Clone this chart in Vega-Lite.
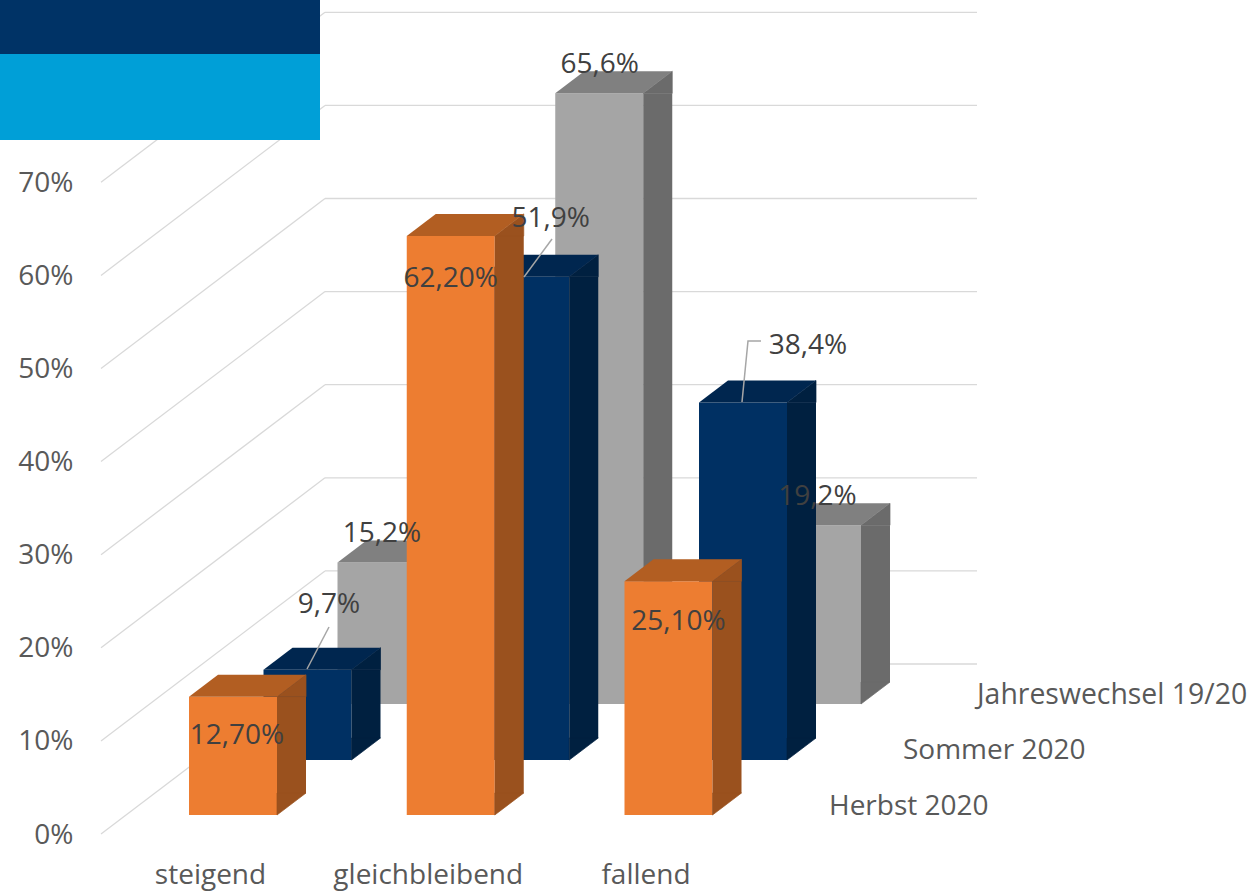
{"$schema":"https://vega.github.io/schema/vega-lite/v6.json","width":1253,"height":891,"padding":0,"autosize":{"type":"none"},"background":"#ffffff","config":{"view":{"stroke":null},"font":"Open Sans"},
"resolve":{"axis":{"x":"independent","y":"independent"}},
"data":{"values":[
{"Kategorie":"steigend","Zeitraum":"Jahreswechsel 19/20","Anteil":15.2,"Beschriftung":"15,2%"},
{"Kategorie":"gleichbleibend","Zeitraum":"Jahreswechsel 19/20","Anteil":65.6,"Beschriftung":"65,6%"},
{"Kategorie":"fallend","Zeitraum":"Jahreswechsel 19/20","Anteil":19.2,"Beschriftung":"19,2%"},
{"Kategorie":"steigend","Zeitraum":"Sommer 2020","Anteil":9.7,"Beschriftung":"9,7%"},
{"Kategorie":"gleichbleibend","Zeitraum":"Sommer 2020","Anteil":51.9,"Beschriftung":"51,9%"},
{"Kategorie":"fallend","Zeitraum":"Sommer 2020","Anteil":38.4,"Beschriftung":"38,4%"},
{"Kategorie":"steigend","Zeitraum":"Herbst 2020","Anteil":12.7,"Beschriftung":"12,70%"},
{"Kategorie":"gleichbleibend","Zeitraum":"Herbst 2020","Anteil":62.2,"Beschriftung":"62,20%"},
{"Kategorie":"fallend","Zeitraum":"Herbst 2020","Anteil":25.1,"Beschriftung":"25,10%"}
]},
"encoding":{
"x":{"field":"Kategorie","type":"nominal","sort":null,"scale":{"type":"point","domain":["steigend","gleichbleibend","fallend"],"range":[233,668.5],"padding":0},"axis":null},
"y":{"field":"Anteil","type":"quantitative","scale":{"domain":[-8.163,87.54],"nice":false,"zero":false},"axis":null}
},
"layer":[
{"data":{"values":[{"Teilstrich":0,"Kategorie":"steigend"},{"Teilstrich":10,"Kategorie":"steigend"},{"Teilstrich":20,"Kategorie":"steigend"},{"Teilstrich":30,"Kategorie":"steigend"},{"Teilstrich":40,"Kategorie":"steigend"},{"Teilstrich":50,"Kategorie":"steigend"},{"Teilstrich":60,"Kategorie":"steigend"},{"Teilstrich":70,"Kategorie":"steigend"}]},
"mark":{"type":"point","filled":false,"shape":"M0,0L224,-170","size":4,"stroke":"#D9D9D9","strokeWidth":1.3,"opacity":1,"xOffset":-132,"yOffset":19},
"encoding":{"x":{"field":"Kategorie","type":"nominal","sort":null,"scale":{"type":"point","domain":["steigend","gleichbleibend","fallend"],"range":[233,668.5],"padding":0},"axis":{"orient":"bottom","title":null,"domain":false,"ticks":false,"labelAngle":0,"labelOffset":-23,"labelFontSize":28,"labelColor":"#595959","labelFont":"Open Sans","offset":-32,"labelPadding":2,"grid":false,"labelOverlap":false,"labelLimit":400}},
"y":{"field":"Teilstrich","type":"quantitative","scale":{"domain":[-8.163,87.54],"nice":false,"zero":false},"axis":{"orient":"left","title":null,"values":[0,10,20,30,40,50,60,70],"labelExpr":"datum.value + '%'","domain":false,"ticks":false,"grid":false,"offset":-75,"labelPadding":2,"labelOffset":20,"labelFontSize":28,"labelColor":"#595959","labelFont":"Open Sans","labelOverlap":false}}}},
{"data":{"values":[{"Teilstrich":0,"Kategorie":"steigend"},{"Teilstrich":10,"Kategorie":"steigend"},{"Teilstrich":20,"Kategorie":"steigend"},{"Teilstrich":30,"Kategorie":"steigend"},{"Teilstrich":40,"Kategorie":"steigend"},{"Teilstrich":50,"Kategorie":"steigend"},{"Teilstrich":60,"Kategorie":"steigend"},{"Teilstrich":70,"Kategorie":"steigend"}]},
"mark":{"type":"point","filled":false,"shape":"M0,0L652,0","size":4,"stroke":"#D9D9D9","strokeWidth":1.3,"opacity":1,"xOffset":92,"yOffset":-151},
"encoding":{"y":{"field":"Teilstrich","type":"quantitative","scale":{"domain":[-8.163,87.54],"nice":false,"zero":false},"axis":null}}},

{"transform":[{"filter":"datum.Zeitraum=='Jahreswechsel 19/20'"}],"mark":{"type":"bar","width":88,"color":"#A5A5A5","xOffset":148.5,"yOffset":-111,"y2Offset":-111},"encoding":{"y2":{"datum":0}}},
{"transform":[{"filter":"datum.Zeitraum=='Jahreswechsel 19/20'"}],"mark":{"type":"bar","width":29,"color":"#6B6B6B","xOffset":207,"yOffset":-111,"y2Offset":-133},"encoding":{"y2":{"datum":0}}},
{"transform":[{"filter":"datum.Zeitraum=='Jahreswechsel 19/20'"}],"mark":{"type":"point","filled":true,"shape":"M0,0L29,-22L29,0Z","size":4,"fill":"#6B6B6B","stroke":"#6B6B6B","strokeWidth":0.7,"opacity":1,"xOffset":192.5,"yOffset":-111}},
{"transform":[{"filter":"datum.Zeitraum=='Jahreswechsel 19/20'"}],"mark":{"type":"point","filled":true,"shape":"M0,0L29,-22L0,-22Z","size":4,"fill":"#6B6B6B","stroke":"#6B6B6B","strokeWidth":0.7,"opacity":1,"xOffset":192.5,"yOffset":-111},"encoding":{"y":{"datum":0,"type":"quantitative","scale":{"domain":[-8.163,87.54],"nice":false,"zero":false},"axis":null}}},
{"transform":[{"filter":"datum.Zeitraum=='Jahreswechsel 19/20'"}],"mark":{"type":"point","filled":true,"shape":"M0,0L29,-22L117,-22L88,0Z","size":4,"fill":"#808080","opacity":1,"xOffset":104.5,"yOffset":-111}},

{"transform":[{"filter":"datum.Zeitraum=='Sommer 2020'"}],"mark":{"type":"bar","width":88,"color":"#003063","xOffset":74.5,"yOffset":-55,"y2Offset":-55},"encoding":{"y2":{"datum":0}}},
{"transform":[{"filter":"datum.Zeitraum=='Sommer 2020'"}],"mark":{"type":"bar","width":29,"color":"#002040","xOffset":133,"yOffset":-55,"y2Offset":-77},"encoding":{"y2":{"datum":0}}},
{"transform":[{"filter":"datum.Zeitraum=='Sommer 2020'"}],"mark":{"type":"point","filled":true,"shape":"M0,0L29,-22L29,0Z","size":4,"fill":"#002040","stroke":"#002040","strokeWidth":0.7,"opacity":1,"xOffset":118.5,"yOffset":-55}},
{"transform":[{"filter":"datum.Zeitraum=='Sommer 2020'"}],"mark":{"type":"point","filled":true,"shape":"M0,0L29,-22L0,-22Z","size":4,"fill":"#002040","stroke":"#002040","strokeWidth":0.7,"opacity":1,"xOffset":118.5,"yOffset":-55},"encoding":{"y":{"datum":0,"type":"quantitative","scale":{"domain":[-8.163,87.54],"nice":false,"zero":false},"axis":null}}},
{"transform":[{"filter":"datum.Zeitraum=='Sommer 2020'"}],"mark":{"type":"point","filled":true,"shape":"M0,0L29,-22L117,-22L88,0Z","size":4,"fill":"#00264F","opacity":1,"xOffset":30.5,"yOffset":-55}},

{"transform":[{"filter":"datum.Zeitraum=='Herbst 2020'"}],"mark":{"type":"bar","width":88,"color":"#ED7D31","xOffset":0,"yOffset":0,"y2Offset":0},"encoding":{"y2":{"datum":0}}},
{"transform":[{"filter":"datum.Zeitraum=='Herbst 2020'"}],"mark":{"type":"bar","width":29,"color":"#9A511E","xOffset":58.5,"yOffset":0,"y2Offset":-22},"encoding":{"y2":{"datum":0}}},
{"transform":[{"filter":"datum.Zeitraum=='Herbst 2020'"}],"mark":{"type":"point","filled":true,"shape":"M0,0L29,-22L29,0Z","size":4,"fill":"#9A511E","stroke":"#9A511E","strokeWidth":0.7,"opacity":1,"xOffset":44,"yOffset":0}},
{"transform":[{"filter":"datum.Zeitraum=='Herbst 2020'"}],"mark":{"type":"point","filled":true,"shape":"M0,0L29,-22L0,-22Z","size":4,"fill":"#9A511E","stroke":"#9A511E","strokeWidth":0.7,"opacity":1,"xOffset":44,"yOffset":0},"encoding":{"y":{"datum":0,"type":"quantitative","scale":{"domain":[-8.163,87.54],"nice":false,"zero":false},"axis":null}}},
{"transform":[{"filter":"datum.Zeitraum=='Herbst 2020'"}],"mark":{"type":"point","filled":true,"shape":"M0,0L29,-22L117,-22L88,0Z","size":4,"fill":"#B25E22","opacity":1,"xOffset":-44,"yOffset":0}},

{"transform":[{"filter":"datum.Beschriftung=='9,7%'"}],"mark":{"type":"point","filled":false,"shape":"M0,0L22,-42","size":4,"stroke":"#A6A6A6","strokeWidth":1.5,"opacity":1,"xOffset":74,"yOffset":-55.7}},
{"transform":[{"filter":"datum.Beschriftung=='51,9%'"}],"mark":{"type":"point","filled":false,"shape":"M0,0L28,-38","size":4,"stroke":"#A6A6A6","strokeWidth":1.5,"opacity":1,"xOffset":73.25,"yOffset":-54.8}},
{"transform":[{"filter":"datum.Beschriftung=='38,4%'"}],"mark":{"type":"point","filled":false,"shape":"M0,0L6,-61L19,-61","size":4,"stroke":"#A6A6A6","strokeWidth":1.5,"opacity":1,"xOffset":73.5,"yOffset":-55.5}},

{"transform":[{"filter":"datum.Zeitraum=='Jahreswechsel 19/20'"}],"mark":{"type":"text","font":"Open Sans","fontSize":28,"color":"#404040","baseline":"middle","align":"center","dx":149,"dy":-139},"encoding":{"text":{"field":"Beschriftung","type":"nominal"}}},
{"transform":[{"filter":"datum.Beschriftung=='9,7%'"}],"mark":{"type":"text","font":"Open Sans","fontSize":28,"color":"#404040","baseline":"middle","align":"center","dx":96,"dy":-120},"encoding":{"text":{"field":"Beschriftung","type":"nominal"}}},
{"transform":[{"filter":"datum.Beschriftung=='51,9%'"}],"mark":{"type":"text","font":"Open Sans","fontSize":28,"color":"#404040","baseline":"middle","align":"center","dx":100,"dy":-113},"encoding":{"text":{"field":"Beschriftung","type":"nominal"}}},
{"transform":[{"filter":"datum.Beschriftung=='38,4%'"}],"mark":{"type":"text","font":"Open Sans","fontSize":28,"color":"#404040","baseline":"middle","align":"center","dx":139.5,"dy":-111.5},"encoding":{"text":{"field":"Beschriftung","type":"nominal"}}},
{"transform":[{"filter":"datum.Beschriftung=='12,70%'"}],"mark":{"type":"text","font":"Open Sans","fontSize":28,"color":"#404040","baseline":"middle","align":"center","dx":4,"dy":39},"encoding":{"text":{"field":"Beschriftung","type":"nominal"}}},
{"transform":[{"filter":"datum.Beschriftung=='62,20%'"}],"mark":{"type":"text","font":"Open Sans","fontSize":28,"color":"#404040","baseline":"middle","align":"center","dx":0,"dy":43},"encoding":{"text":{"field":"Beschriftung","type":"nominal"}}},
{"transform":[{"filter":"datum.Beschriftung=='25,10%'"}],"mark":{"type":"text","font":"Open Sans","fontSize":28,"color":"#404040","baseline":"middle","align":"center","dx":10,"dy":41},"encoding":{"text":{"field":"Beschriftung","type":"nominal"}}},

{"transform":[{"filter":"datum.Kategorie=='fallend' && datum.Zeitraum=='Herbst 2020'"}],"mark":{"type":"text","font":"Open Sans","fontSize":28,"color":"#595959","baseline":"middle","align":"left","dx":160.5,"dy":-8},"encoding":{"text":{"field":"Zeitraum","type":"nominal"},"y":{"datum":0,"type":"quantitative","scale":{"domain":[-8.163,87.54],"nice":false,"zero":false},"axis":null}}},
{"transform":[{"filter":"datum.Kategorie=='fallend' && datum.Zeitraum=='Sommer 2020'"}],"mark":{"type":"text","font":"Open Sans","fontSize":28,"color":"#595959","baseline":"middle","align":"left","dx":234.5,"dy":-64},"encoding":{"text":{"field":"Zeitraum","type":"nominal"},"y":{"datum":0,"type":"quantitative","scale":{"domain":[-8.163,87.54],"nice":false,"zero":false},"axis":null}}},
{"transform":[{"filter":"datum.Kategorie=='fallend' && datum.Zeitraum=='Jahreswechsel 19/20'"}],"mark":{"type":"text","font":"Open Sans","fontSize":28.4,"color":"#595959","baseline":"middle","align":"left","dx":308.5,"dy":-120},"encoding":{"text":{"field":"Zeitraum","type":"nominal"},"y":{"datum":0,"type":"quantitative","scale":{"domain":[-8.163,87.54],"nice":false,"zero":false},"axis":null}}},

{"transform":[{"filter":"datum.Beschriftung=='12,70%'"}],"mark":{"type":"point","filled":true,"shape":"M0,0L320,0L320,54L0,54Z","size":4,"fill":"#003366","opacity":1,"xOffset":-233},"encoding":{"y":{"datum":87.54,"type":"quantitative","scale":{"domain":[-8.163,87.54],"nice":false,"zero":false},"axis":null}}},
{"transform":[{"filter":"datum.Beschriftung=='12,70%'"}],"mark":{"type":"point","filled":true,"shape":"M0,0L320,0L320,86L0,86Z","size":4,"fill":"#009FD7","opacity":1,"xOffset":-233},"encoding":{"y":{"datum":81.74,"type":"quantitative","scale":{"domain":[-8.163,87.54],"nice":false,"zero":false},"axis":null}}}
]}
